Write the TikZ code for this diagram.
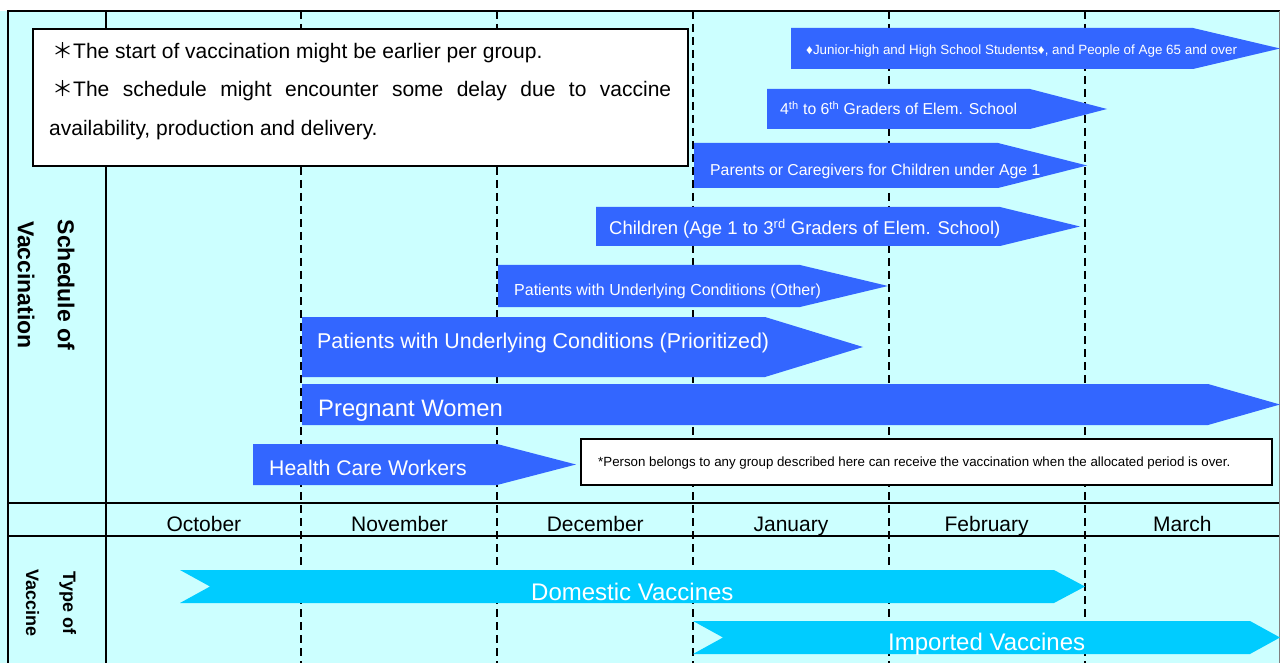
\documentclass[tikz,border=0pt]{standalone}
\usepackage{fontspec}
\setmainfont{Liberation Sans}
\newfontfamily\cjk{Noto Sans CJK JP}
\definecolor{grpblue}{HTML}{3366FF}
\definecolor{vaccyan}{HTML}{00CCFF}
\definecolor{bgcyan}{HTML}{CCFFFF}
\newcommand{\pxsize}[1]{\fontsize{#1}{#1}\selectfont}
\tikzset{
  grp/.style={fill=grpblue},
  vac/.style={fill=vaccyan},
  lbl/.style={anchor=base west, inner sep=0pt, text=white},
  note/.style={anchor=base west, inner sep=0pt},
  month/.style={anchor=base, inner sep=0pt, font=\pxsize{21}},
  dashline/.style={line width=1.5pt, dash pattern=on 8pt off 5pt},
  frame/.style={line width=1.8pt},
  notebox/.style={draw, fill=white, line width=1.8pt}
}

\begin{document}
\begin{tikzpicture}[x=1pt,y=-1pt]
\useasboundingbox (0,0) rectangle (1280,663);
\fill[bgcyan] (0,11) rectangle (1280,663);
% month boundaries
\foreach \x in {301,497,693,889,1085} { \draw[dashline] (\x,11) -- (\x,663); };
% frame
\draw[frame] (8,663) -- (8,11) -- (1280,11);
\draw[frame] (106,11) -- (106,663);
\draw[frame] (8,503) -- (1280,503);
\draw[frame] (8,536) -- (1280,536);
\draw[gray, line width=0.8pt] (1279,11) -- (1279,663);
% groups
\fill[grp] (791,28) -- (1193,28) -- (1280,48.5) -- (1193,69) -- (791,69) -- cycle;
\fill[grp] (767,89) -- (1030,89) -- (1107,109) -- (1030,129) -- (767,129) -- cycle;
\fill[grp] (694,143) -- (998,143) -- (1087,165.5) -- (998,188) -- (694,188) -- cycle;
\fill[grp] (596,207) -- (1000,207) -- (1080,226.5) -- (1000,246) -- (596,246) -- cycle;
\fill[grp] (498,265) -- (800,265) -- (888,286) -- (800,307) -- (498,307) -- cycle;
\fill[grp] (302,317) -- (765,317) -- (863,347) -- (765,377) -- (302,377) -- cycle;
\fill[grp] (302,384) -- (1208,384) -- (1280,404.5) -- (1208,425) -- (302,425) -- cycle;
\fill[grp] (253,444) -- (497,444) -- (576,464.5) -- (497,485) -- (253,485) -- cycle;
\node[lbl, font=\pxsize{13.4}] (senior) at (806,55) {♦Junior-high and High School Students♦, and People of Age 65 and over};
\node[lbl, font=\pxsize{15.8}] (upper) at (780,115) {4\textsuperscript{th} to 6\textsuperscript{th} Graders of Elem. School};
\node[lbl, font=\pxsize{15.8}] (parents) at (710,176) {Parents or Caregivers for Children under Age 1};
\node[lbl, font=\pxsize{18.5}] (children) at (609,235) {Children (Age 1 to 3\textsuperscript{rd} Graders of Elem. School)};
\node[lbl, font=\pxsize{16}] (other) at (514,295) {Patients with Underlying Conditions (Other)};
\node[lbl, font=\pxsize{21.4}] (prior) at (317,348) {Patients with Underlying Conditions (Prioritized)};
\node[lbl, font=\pxsize{23.8}] (pregnant) at (318,416) {Pregnant Women};
\node[lbl, font=\pxsize{21.2}] (health) at (269,475) {Health Care Workers};
% vaccines
\fill[vac] (180,570) -- (1054,570) -- (1085,586.5) -- (1054,603) -- (180,603) -- (210,586.5) -- cycle;
\fill[vac] (693,621) -- (1250,621) -- (1280,637.5) -- (1250,654) -- (693,654) -- (723,637.5) -- cycle;
\node[lbl, font=\pxsize{24}] (domestic) at (531,600) {Domestic Vaccines};
\node[lbl, font=\pxsize{24}] (imported) at (888,650) {Imported Vaccines};
% remarks
\draw[notebox] (33,29) rectangle (688,166);
\node[note, font=\pxsize{21}] (warn1) at (52,59) {{\cjk ＊}The start of vaccination might be earlier per group.};
\node[note, font=\pxsize{21}] (warn2) at (52,97) {\makebox[619pt][s]{{\cjk ＊}The schedule might encounter some delay due to vaccine}};
\node[note, font=\pxsize{21}] (warn3) at (49,136) {availability, production and delivery.};
\draw[notebox] (581,439) rectangle (1272,485);
\node[note, font=\pxsize{13.3}] (after) at (598,466) {*Person belongs to any group described here can receive the vaccination when the allocated period is over.};
\foreach \m [count=\i] in {October,November,December,January,February,March} { \node[month] (m\i) at ({106+195.7*(\i-0.5)},531) {\m}; };
\node[rotate=-90, align=center, font=\bfseries\fontsize{23}{40}\selectfont] (sched) at (46,285) {Schedule of\\Vaccination};
\node[rotate=-90, align=center, font=\bfseries\fontsize{18}{37}\selectfont] (type) at (51,603) {Type of\\Vaccine};
\end{tikzpicture}
\end{document}
